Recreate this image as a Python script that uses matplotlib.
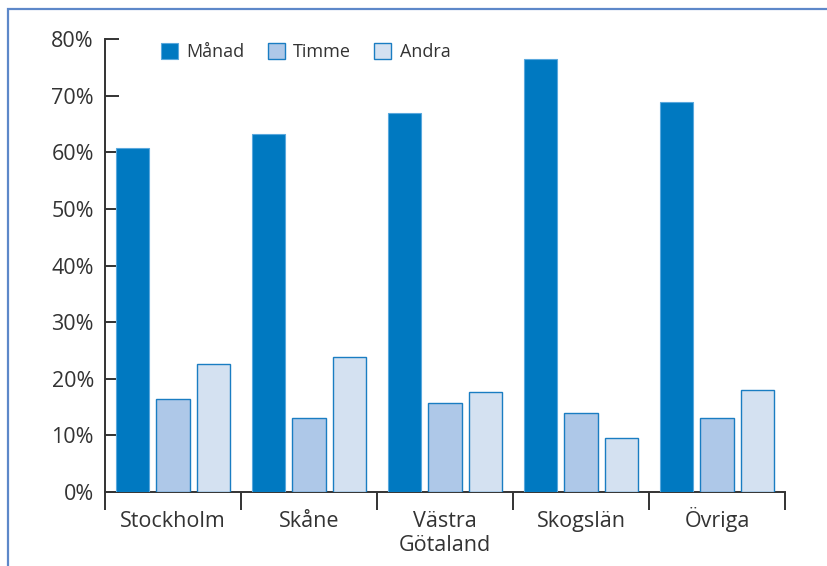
import numpy as np
import matplotlib
matplotlib.use("Agg")
from matplotlib import pyplot as plt
from matplotlib.patches import Rectangle

plt.rcParams['font.family'] = ['Open Sans', 'DejaVu Sans']

kategorier = ["Stockholm", "Skåne", "Västra\nGötaland", "Skogslän", "Övriga"]
serier = ["Månad", "Timme", "Andra"]
manad = [60.8, 63.3, 66.9, 76.6, 68.9]
timme = [16.5, 13.0, 15.7, 14.0, 13.0]
andra = [22.7, 23.8, 17.7, 9.5, 18.1]

fyllning = ["#0079c1", "#aec8e8", "#d4e1f1"]
kanter = ["#5aa8dd", "#1a7dc2", "#1a7dc2"]
textfarg = "#333333"

fig = plt.figure(figsize=(8.28, 5.66), dpi=100)
ax = fig.add_axes([0.1268, 0.1307, 0.8213, 0.7999])

# ram runt hela figuren (fortsätter utanför bilden till höger och nedåt)
fig.patches.append(Rectangle((8/828, -0.1), 1.2, 1 - 9/566 + 0.1, transform=fig.transFigure,
                             fill=False, edgecolor="#5d88c9", linewidth=1.6))

x = np.arange(len(kategorier))
bredd = 0.243
steg = 0.30
for i, (namn, v) in enumerate(zip(serier, [manad, timme, andra])):
    ax.bar(x + (i - 1) * steg, v, bredd, color=fyllning[i], edgecolor=kanter[i],
           linewidth=1.0 if i else 0.8, label=namn, zorder=3)

ax.set_xlim(-0.5, 4.5)
ax.set_ylim(0, 80)
ax.set_yticks(np.arange(0, 81, 10))
ax.set_yticklabels([f"{t}%" for t in range(0, 81, 10)])
ax.tick_params(axis="y", direction="in", length=10, width=1.4, color=textfarg,
               labelsize=15.5, labelcolor=textfarg, pad=8)

ax.set_xticks(np.arange(-0.5, 4.6, 1.0))
ax.set_xticklabels([])
ax.tick_params(axis="x", which="major", direction="out", length=13, width=1.4, color=textfarg)

# kategorietiketter, rad för rad med gemensam baslinje
for xi, namn in zip(x, kategorier):
    for k, rad in enumerate(namn.split("\n")):
        ax.annotate(rad, xy=(xi, 0), xycoords=("data", "axes fraction"),
                    xytext=(0, -35 - 24 * k), textcoords="offset pixels",
                    ha="center", va="baseline", fontsize=15.5, color=textfarg,
                    annotation_clip=False)

for s in ["top", "right"]:
    ax.spines[s].set_visible(False)
for s in ["left", "bottom"]:
    ax.spines[s].set_color(textfarg)
    ax.spines[s].set_linewidth(1.4)

ax.legend(loc="upper left", bbox_to_anchor=(0.058, 1.027), ncol=3, frameon=False,
          fontsize=13, handlelength=0.95, handleheight=0.95, handletextpad=0.45,
          columnspacing=1.3, labelcolor=textfarg)

fig.savefig("out.png", dpi=100)
